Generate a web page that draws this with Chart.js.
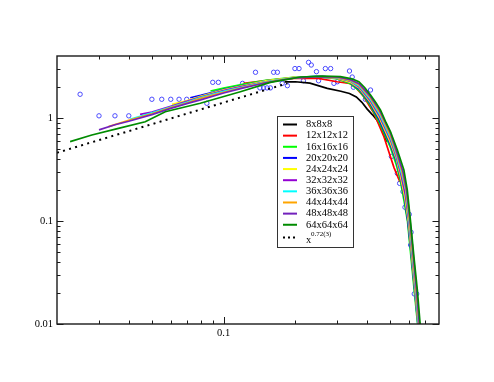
<!DOCTYPE html>
<html>
<head>
<meta charset="utf-8">
<script src="https://cdn.jsdelivr.net/npm/chart.js@4.4.1/dist/chart.umd.min.js"></script>
<style>
  body { margin: 0; background: #fff; }
  canvas { display: block; }
</style>
</head>
<body>
<canvas id="chart" width="494" height="382"></canvas>
<script>
// lattice sizes, in legend order
const sizes = ["8x8x8", "12x12x12", "16x16x16", "20x20x20", "24x24x24", "32x32x32", "36x36x36", "44x44x44", "48x48x48", "64x64x64"];

const x8 = [0.18, 0.2, 0.23, 0.272, 0.31, 0.337, 0.36, 0.38, 0.40, 0.42, 0.44, 0.46, 0.482];
const y8 = [2.24, 2.25, 2.18, 1.94, 1.82, 1.73, 1.6, 1.42, 1.22, 1.08, 0.95, 0.8, 0.589];

const x12 = [0.121, 0.157, 0.19, 0.25, 0.299, 0.337, 0.36, 0.387, 0.427, 0.47, 0.518, 0.548];
const y12 = [2.17, 2.34, 2.42, 2.43, 2.25, 2.17, 1.95, 1.61, 1.11, 0.658, 0.33, 0.241];

const x16 = [0.088, 0.1, 0.12, 0.15, 0.2, 0.25, 0.3, 0.34, 0.37, 0.41, 0.45, 0.5, 0.53, 0.55, 0.57, 0.59, 0.61, 0.63, 0.652];
const y16 = [1.83, 1.95, 2.12, 2.32, 2.5, 2.52, 2.4, 2.15, 1.85, 1.35, 0.9, 0.52, 0.35, 0.25, 0.16, 0.1, 0.045, 0.021, 0.0095];

const x20 = [0.0724, 0.08, 0.09, 0.1, 0.12, 0.15, 0.2, 0.25, 0.3, 0.34, 0.37, 0.41, 0.45, 0.5, 0.53, 0.55, 0.572, 0.592, 0.613, 0.633, 0.654];
const y20 = [1.574, 1.66, 1.78, 1.9, 2.07, 2.3, 2.48, 2.5, 2.42, 2.2, 1.9, 1.4, 0.95, 0.55, 0.38, 0.27, 0.17, 0.1, 0.045, 0.021, 0.0095];

const x24 = [0.0607, 0.07, 0.08, 0.1, 0.12, 0.15, 0.2, 0.25, 0.3, 0.34, 0.37, 0.41, 0.45, 0.5, 0.53, 0.55, 0.575, 0.595, 0.615, 0.635, 0.655];
const y24 = [1.358, 1.47, 1.62, 1.88, 2.05, 2.3, 2.5, 2.52, 2.42, 2.22, 1.95, 1.45, 1.0, 0.58, 0.4, 0.28, 0.17, 0.1, 0.045, 0.021, 0.0095];

const x32 = [0.0446, 0.05, 0.06, 0.07, 0.08, 0.1, 0.12, 0.15, 0.2, 0.25, 0.3, 0.34, 0.37, 0.41, 0.45, 0.5, 0.53, 0.555, 0.578, 0.598, 0.618, 0.638, 0.657];
const y32 = [1.086, 1.14, 1.3, 1.45, 1.6, 1.85, 2.03, 2.25, 2.45, 2.55, 2.45, 2.28, 2.0, 1.5, 1.05, 0.62, 0.42, 0.28, 0.18, 0.1, 0.045, 0.021, 0.0095];

const x36 = [0.0405, 0.05, 0.06, 0.07, 0.08, 0.1, 0.12, 0.15, 0.2, 0.25, 0.3, 0.34, 0.37, 0.41, 0.45, 0.5, 0.53, 0.56, 0.58, 0.6, 0.62, 0.64, 0.659];
const y36 = [0.971, 1.12, 1.28, 1.42, 1.58, 1.82, 2.0, 2.25, 2.47, 2.55, 2.47, 2.3, 2.05, 1.55, 1.1, 0.65, 0.44, 0.28, 0.2, 0.1, 0.045, 0.021, 0.0095];

const x44 = [0.0329, 0.04, 0.05, 0.06, 0.07, 0.08, 0.1, 0.12, 0.15, 0.2, 0.25, 0.3, 0.34, 0.37, 0.41, 0.45, 0.5, 0.53, 0.56, 0.582, 0.602, 0.622, 0.642, 0.661];
const y44 = [0.824, 0.95, 1.1, 1.26, 1.4, 1.55, 1.78, 1.98, 2.22, 2.45, 2.53, 2.48, 2.32, 2.1, 1.6, 1.15, 0.68, 0.46, 0.3, 0.2, 0.1, 0.045, 0.021, 0.0095];

const x48 = [0.030, 0.035, 0.04, 0.05, 0.06, 0.07, 0.08, 0.1, 0.12, 0.15, 0.2, 0.25, 0.3, 0.34, 0.37, 0.41, 0.45, 0.5, 0.53, 0.565, 0.585, 0.605, 0.625, 0.645, 0.663];
const y48 = [0.766, 0.86, 0.93, 1.08, 1.24, 1.38, 1.5, 1.75, 1.95, 2.2, 2.45, 2.52, 2.5, 2.35, 2.15, 1.65, 1.2, 0.72, 0.48, 0.3, 0.2, 0.1, 0.045, 0.021, 0.0095];

const x64 = [0.0227, 0.028, 0.0362, 0.0469, 0.0569, 0.0798, 0.1175, 0.157, 0.21, 0.26, 0.309, 0.345, 0.369, 0.39, 0.413, 0.435, 0.455, 0.48, 0.501, 0.535, 0.57, 0.589, 0.607, 0.628, 0.649, 0.668];
const y64 = [0.589, 0.684, 0.794, 0.92, 1.15, 1.39, 1.80, 2.22, 2.50, 2.55, 2.52, 2.40, 2.25, 1.98, 1.67, 1.41, 1.195, 0.9, 0.736, 0.489, 0.313, 0.2, 0.102, 0.045, 0.0214, 0.0095];

// fit line x^0.72(3)
const fitX = [0.02, 0.185];
const fitY = [0.46, 2.17];

// scattered points (open circles)
const circX = [0.025, 0.030, 0.035, 0.040, 0.050, 0.055, 0.060, 0.065, 0.070, 0.085, 0.090, 0.095, 0.120, 0.136, 0.142, 0.147, 0.152, 0.157, 0.162, 0.168, 0.176, 0.185, 0.199, 0.207, 0.216, 0.227, 0.233, 0.245, 0.250, 0.267, 0.281, 0.290, 0.300, 0.337, 0.346, 0.350, 0.393, 0.413, 0.434, 0.463, 0.505, 0.535, 0.547, 0.565, 0.576, 0.600, 0.611, 0.608, 0.630, 0.645];
const circY = [1.70, 1.05, 1.05, 1.05, 1.52, 1.52, 1.52, 1.52, 1.52, 1.39, 2.22, 2.22, 2.17, 2.78, 1.96, 1.96, 1.96, 1.96, 2.78, 2.78, 2.17, 2.06, 3.02, 3.02, 2.30, 3.47, 3.27, 2.82, 2.30, 3.02, 3.02, 2.17, 2.25, 2.86, 2.50, 1.99, 1.52, 1.87, 1.11, 0.889, 0.423, 0.290, 0.232, 0.193, 0.136, 0.116, 0.0777, 0.0585, 0.0196, 0.0196];

// axis ticks
const xTickLabels = [0.1];
const yTickLabels = [0.01, 0.1, 1];
const xMinor = [0.03, 0.04, 0.05, 0.06, 0.07, 0.08, 0.09, 0.2, 0.3, 0.4, 0.5, 0.6, 0.7];
const yMinor = [0.02, 0.03, 0.04, 0.05, 0.06, 0.07, 0.08, 0.09, 0.2, 0.3, 0.4, 0.5, 0.6, 0.7, 0.8, 0.9, 2, 3];

const colors = ["#000000", "#ff0000", "#00ff00", "#0000ff", "#ffff00", "#9400d3", "#00ffff", "#ffa500", "#7221bc", "#008b00"];
const xs = [x8, x12, x16, x20, x24, x32, x36, x44, x48, x64];
const ys = [y8, y12, y16, y20, y24, y32, y36, y44, y48, y64];

const pts = (a, b) => a.map((v, i) => ({ x: v, y: b[i] }));
const serif = "'Liberation Serif', 'Times New Roman', serif";

const datasets = [];
datasets.push({
	label: "points",
	data: pts(circX, circY),
	showLine: false,
	pointStyle: "circle",
	pointRadius: 2.2,
	pointBorderWidth: 1,
	pointBorderColor: "#4a4aff",
	pointBackgroundColor: "rgba(0,0,0,0)",
	order: 20,
});
sizes.forEach((s, i) => {
	datasets.push({
		label: s,
		data: pts(xs[i], ys[i]),
		borderColor: colors[i],
		borderWidth: 1.7,
		pointRadius: 0,
		fill: false,
		tension: 0,
		order: 10 - i,
	});
});
datasets.push({
	label: "fit",
	data: pts(fitX, fitY),
	borderColor: "#000",
	borderWidth: 2,
	borderDash: [2, 4.3],
	pointRadius: 0,
	fill: false,
	order: 0,
});

// frame with inward ticks on all four sides, plus the boxed legend
const frame = {
	id: "frame",
	afterDatasetsDraw(chart) {
		const { ctx, chartArea: a, scales } = chart;
		const sx = scales.x, sy = scales.y;
		ctx.save();
		ctx.strokeStyle = "#1a1a1a";
		ctx.lineWidth = 1;
		const xt = (v, len) => {
			const p = Math.round(sx.getPixelForValue(v)) + 0.5;
			ctx.beginPath();
			ctx.moveTo(p, a.bottom); ctx.lineTo(p, a.bottom - len);
			ctx.moveTo(p, a.top); ctx.lineTo(p, a.top + len);
			ctx.stroke();
		};
		const yt = (v, len) => {
			const p = Math.round(sy.getPixelForValue(v)) + 0.5;
			ctx.beginPath();
			ctx.moveTo(a.left, p); ctx.lineTo(a.left + len, p);
			ctx.moveTo(a.right, p); ctx.lineTo(a.right - len, p);
			ctx.stroke();
		};
		xMinor.forEach((v) => xt(v, 3.5));
		xTickLabels.forEach((v) => xt(v, 7));
		yMinor.forEach((v) => yt(v, 3.5));
		yTickLabels.forEach((v) => yt(v, 6.5));
		ctx.lineWidth = 1.4;
		ctx.strokeRect(a.left, a.top, a.right - a.left, a.bottom - a.top);
		ctx.restore();
	},
	afterDraw(chart) {
		const ctx = chart.ctx;
		const bx = 277, by = 116, bw = 76, bh = 131;
		ctx.save();
		ctx.fillStyle = "#fff";
		ctx.fillRect(bx, by, bw, bh);
		ctx.strokeStyle = "#333";
		ctx.lineWidth = 1;
		ctx.strokeRect(bx + 0.5, by + 0.5, bw, bh);
		ctx.font = "10.5px " + serif;
		ctx.textBaseline = "middle";
		ctx.fillStyle = "#000";
		const dy = 11.14;
		sizes.forEach((s, i) => {
			const yy = 124.5 + i * dy;
			ctx.strokeStyle = colors[i];
			ctx.lineWidth = 2;
			ctx.beginPath();
			ctx.moveTo(283, yy); ctx.lineTo(297, yy);
			ctx.stroke();
			ctx.fillText(s, 306, yy);
		});
		const yf = 124.5 + 10 * dy + 1.5;
		ctx.strokeStyle = "#000";
		ctx.setLineDash([2, 3]);
		ctx.beginPath();
		ctx.moveTo(283, yf); ctx.lineTo(297, yf);
		ctx.stroke();
		ctx.fillText("x", 306, yf + 3);
		ctx.font = "7px " + serif;
		ctx.fillText("0.72(3)", 311, yf - 3);
		ctx.restore();
	},
};

new Chart(document.getElementById("chart"), {
	type: "line",
	data: { datasets: datasets },
	options: {
		responsive: false,
		animation: false,
		layout: { padding: { top: 56, right: 55, left: 0, bottom: 0 } },
		plugins: { legend: { display: false }, tooltip: { enabled: false } },
		scales: {
			x: {
				type: "logarithmic",
				min: 0.02,
				max: 0.8,
				bounds: "data",
				grid: { display: false, drawTicks: false },
				border: { display: false },
				afterBuildTicks: (s) => { s.ticks = xTickLabels.map((v) => ({ value: v })); },
				afterFit: (s) => { s.height = 58; },
				ticks: {
					autoSkip: false,
					maxRotation: 0,
					padding: 3,
					color: "#000",
					font: { family: serif, size: 10.5 },
					callback: (v) => String(v),
				},
			},
			y: {
				type: "logarithmic",
				min: 0.01,
				max: 4,
				bounds: "data",
				grid: { display: false, drawTicks: false },
				border: { display: false },
				afterBuildTicks: (s) => { s.ticks = yTickLabels.map((v) => ({ value: v })); },
				afterFit: (s) => { s.width = 57; },
				ticks: {
					autoSkip: false,
					padding: 4,
					color: "#000",
					font: { family: serif, size: 10.5 },
					callback: (v) => String(v),
				},
			},
		},
	},
	plugins: [frame],
});
</script>
</body>
</html>
